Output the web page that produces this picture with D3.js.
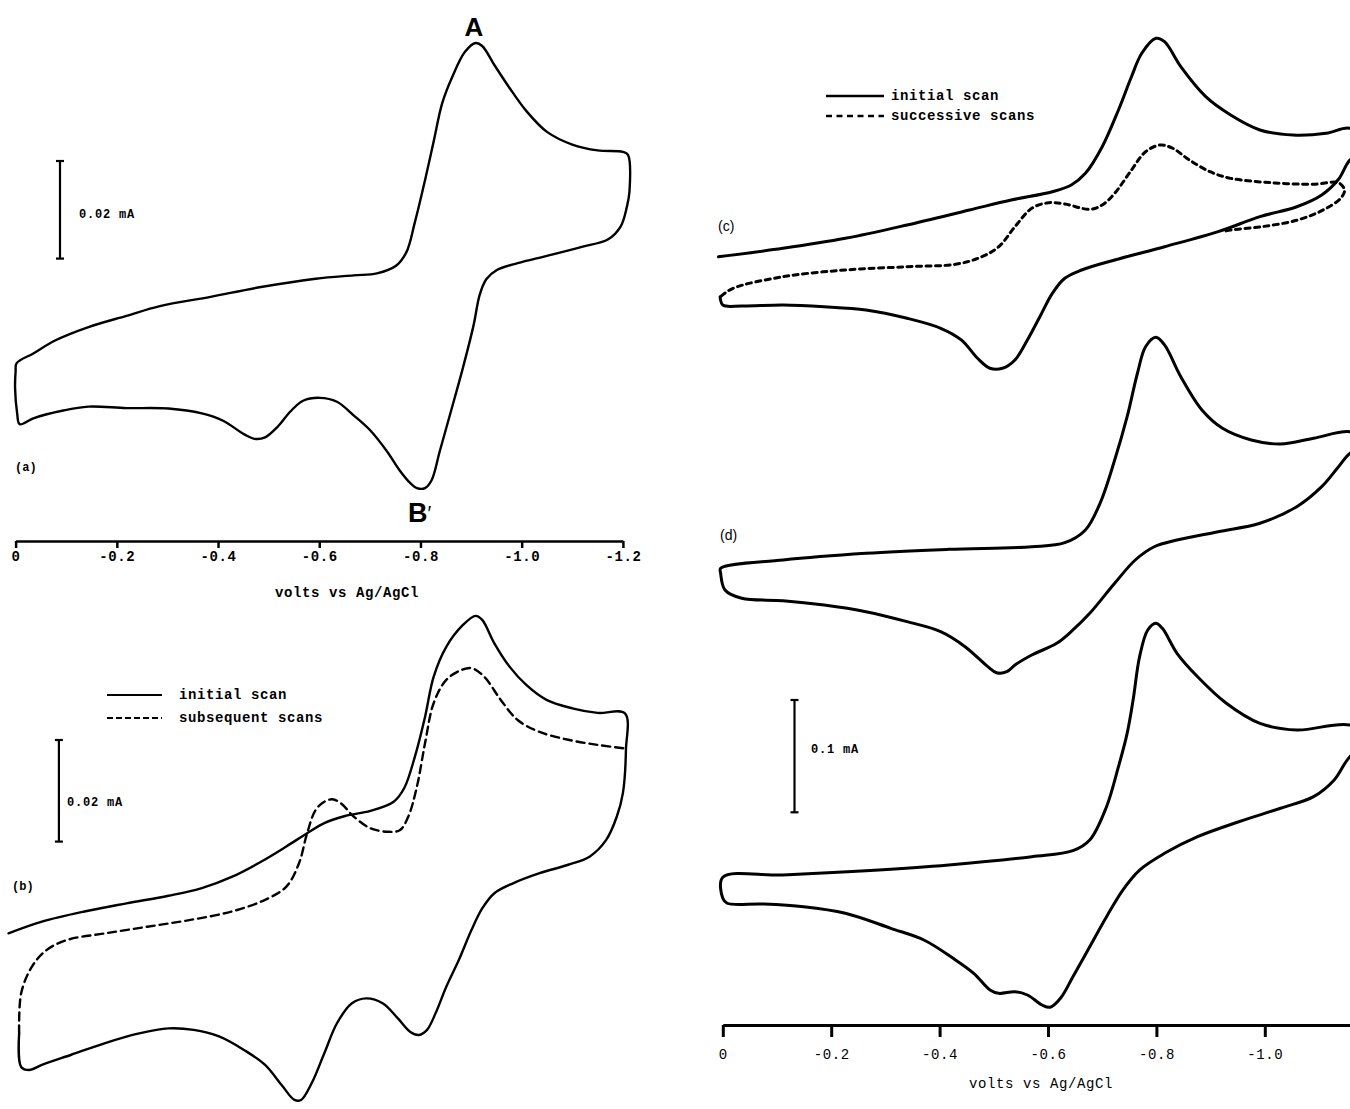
<!DOCTYPE html>
<html><head><meta charset="utf-8">
<script src="https://cdn.jsdelivr.net/npm/d3@7"></script>
<style>body{margin:0;background:#fff}svg{display:block}</style>
</head><body>
<svg id="chart" width="1350" height="1109"></svg>
<script>
// ---- DATA (volts vs Ag/AgCl, current in µA) ----
const leftTicks = [0, -0.2, -0.4, -0.6, -0.8, -1.0, -1.2];
const rightTicks = [0, -0.2, -0.4, -0.6, -0.8, -1.0];
const axisTitle = "volts vs Ag/AgCl";
const scaleLeft = {value: 20, label: "0.02 mA"};
const scaleRight = {value: 100, label: "0.1 mA"};
const legendB = ["initial scan", "subsequent scans"];
const legendC = ["initial scan", "successive scans"];

// panel (a)
const aV = [-0.002,-0.035,-0.077,-0.144,-0.219,-0.285,-0.385,-0.485,-0.593,-0.668,-0.714,-0.751,-0.772,-0.789,-0.809,-0.826,-0.843,-0.863,-0.888,-0.909,-0.922,-0.946,-0.976,-1.009,-1.050,-1.100,-1.150,-1.200,-1.210,-1.213,-1.208,-1.196,-1.171,-1.117,-1.050,-0.992,-0.951,-0.930,-0.917,-0.905,-0.884,-0.859,-0.838,-0.822,-0.809,-0.793,-0.780,-0.759,-0.734,-0.701,-0.668,-0.635,-0.601,-0.568,-0.543,-0.518,-0.493,-0.472,-0.452,-0.410,-0.368,-0.302,-0.219,-0.144,-0.094,-0.035,-0.008,-0.003,0.001,0.000];
const aI = [-6.8,-4.8,-2.2,0.6,2.9,4.9,6.8,8.8,10.5,11.2,11.6,13.1,15.9,22.1,30.7,38.6,46.5,51.9,57.0,58.8,58.2,54.3,49.6,44.9,40.6,38.0,36.8,36.5,35.9,28.4,25.3,21.3,18.6,17.0,15.2,13.7,12.3,10.4,7.2,1.0,-7.7,-17.1,-24.9,-30.8,-32.4,-32.4,-31.4,-28.8,-24.9,-20.6,-17.5,-14.7,-13.9,-14.5,-16.7,-19.8,-22.0,-22.3,-21.4,-18.6,-17.1,-16.1,-16.0,-15.7,-16.5,-18.1,-19.3,-17.0,-12.0,-8.5];

// panel (b) initial scan
const bV = [0.014,-0.052,-0.136,-0.219,-0.302,-0.368,-0.427,-0.485,-0.535,-0.576,-0.610,-0.651,-0.701,-0.747,-0.768,-0.789,-0.809,-0.826,-0.851,-0.884,-0.909,-0.922,-0.946,-0.976,-1.009,-1.050,-1.100,-1.150,-1.204,-1.206,-1.200,-1.188,-1.167,-1.134,-1.092,-1.034,-0.984,-0.946,-0.922,-0.901,-0.876,-0.851,-0.830,-0.813,-0.797,-0.780,-0.755,-0.726,-0.693,-0.664,-0.635,-0.610,-0.585,-0.564,-0.551,-0.526,-0.493,-0.452,-0.402,-0.352,-0.302,-0.244,-0.177,-0.110,-0.052,-0.027,-0.011,-0.007];
const bI = [-10.5,-8.2,-6.2,-4.6,-3.1,-1.6,0.6,3.6,6.6,9.2,11.2,12.6,13.6,15.4,18.1,24.3,32.1,40.0,45.9,50.2,52.0,51.2,46.6,42.0,38.4,35.4,33.8,32.9,32.8,25.6,17.1,12.5,7.9,4.6,3.0,1.3,-0.6,-2.6,-5.6,-9.8,-15.7,-21.0,-26.2,-29.5,-30.5,-29.9,-27.2,-24.3,-23.3,-24.3,-28.2,-34.1,-40.0,-43.3,-43.3,-40.4,-36.4,-33.5,-30.8,-29.5,-29.2,-30.2,-32.1,-34.4,-36.4,-37.4,-36.8,-30.2];
// panel (b) subsequent scans
const bDashV = [-0.007,-0.011,-0.032,-0.061,-0.102,-0.177,-0.260,-0.343,-0.427,-0.493,-0.535,-0.560,-0.576,-0.593,-0.610,-0.626,-0.643,-0.668,-0.701,-0.734,-0.759,-0.776,-0.793,-0.809,-0.826,-0.851,-0.880,-0.901,-0.926,-0.959,-0.992,-1.034,-1.092,-1.150,-1.204];
const bDashI = [-30.2,-22.3,-17.1,-13.8,-11.8,-10.5,-9.2,-7.9,-6.2,-3.9,-1.3,3.3,9.2,13.8,15.4,15.9,15.1,12.5,10.2,9.5,9.8,12.5,18.4,26.9,34.8,39.4,41.3,41.7,40.0,35.4,31.5,29.2,27.6,26.6,25.9];

// panel (c) initial scan
const cV = [0.008,-0.111,-0.226,-0.340,-0.455,-0.532,-0.608,-0.643,-0.669,-0.700,-0.730,-0.754,-0.773,-0.799,-0.815,-0.845,-0.891,-0.937,-0.991,-1.052,-1.113,-1.157,-1.200,-1.157,-1.136,-1.105,-1.059,-0.991,-0.914,-0.815,-0.723,-0.662,-0.631,-0.608,-0.585,-0.562,-0.539,-0.516,-0.493,-0.470,-0.440,-0.402,-0.340,-0.264,-0.187,-0.111,-0.035,0.000,0.005];
const cI = [-6.0,1.5,10.4,22.3,35.6,44.5,51.9,57.9,68.3,92.0,124.7,154.3,175.2,188.5,185.5,163.2,136.5,120.2,106.9,102.4,103.9,108.4,95.0,80.1,63.0,49.0,38.5,29.7,16.3,2.9,-8.9,-17.8,-25.2,-38.6,-59.4,-80.1,-97.9,-105.3,-105.3,-96.4,-80.1,-69.7,-60.8,-53.4,-50.5,-49.0,-49.9,-49.0,-41.6];
// panel (c) successive scans
const cDashV = [0.003,-0.019,-0.111,-0.226,-0.340,-0.432,-0.478,-0.509,-0.539,-0.570,-0.601,-0.631,-0.677,-0.700,-0.723,-0.754,-0.780,-0.807,-0.830,-0.861,-0.899,-0.937,-1.013,-1.090,-1.136,-1.147,-1.140,-1.105,-1.059,-0.998,-0.937,-0.922];
const cDashI = [-41.0,-34.1,-23.8,-17.8,-14.9,-12.5,-6.0,2.9,20.7,37.1,42.1,41.0,36.2,40.1,50.5,71.2,87.5,93.5,90.6,80.1,69.7,63.8,59.9,58.5,59.9,53.4,46.0,35.0,26.5,21.0,17.8,16.3];

// panel (d)
const dV = [0.004,-0.111,-0.264,-0.417,-0.570,-0.631,-0.669,-0.696,-0.723,-0.746,-0.765,-0.780,-0.799,-0.815,-0.845,-0.884,-0.922,-0.975,-1.029,-1.090,-1.157,-1.200,-1.157,-1.136,-1.105,-1.059,-0.991,-0.914,-0.838,-0.796,-0.761,-0.723,-0.677,-0.646,-0.616,-0.570,-0.539,-0.524,-0.505,-0.489,-0.447,-0.402,-0.340,-0.264,-0.187,-0.111,-0.035,-0.004,0.004];
const dI = [-7.4,0,6.0,9.5,11.8,15.4,26.7,50.5,89.0,127.6,166.3,189.9,198.3,191.5,163.2,133.6,117.3,106.9,103.3,108.4,114.2,105.0,95.0,83.1,65.3,47.5,32.7,25.2,17.8,11.8,0,-20.7,-47.5,-62.3,-74.2,-84.6,-93.5,-99.5,-100.4,-95.0,-77.2,-63.8,-54.9,-46.0,-40.1,-36.2,-34.1,-26.7,-11.8];

// bottom-right panel
const eV = [0,-0.111,-0.264,-0.417,-0.570,-0.646,-0.677,-0.708,-0.730,-0.746,-0.757,-0.769,-0.784,-0.799,-0.811,-0.838,-0.876,-0.929,-0.991,-1.059,-1.157,-1.200,-1.157,-1.128,-1.090,-1.029,-0.952,-0.876,-0.815,-0.769,-0.738,-0.708,-0.677,-0.646,-0.623,-0.604,-0.589,-0.562,-0.539,-0.509,-0.493,-0.463,-0.425,-0.371,-0.310,-0.226,-0.149,-0.073,-0.008,0];
const eI = [20.2,22.3,26.1,31.2,38.6,43.9,53.4,83.1,118.7,148.4,178.1,216.7,240.4,246.4,241.9,219.7,198.8,175.2,157.3,151.4,155.8,142.0,127.6,106.9,92.0,81.7,69.7,56.4,41.6,26.7,8.9,-14.9,-41.6,-68.3,-87.5,-95.5,-93.5,-84.6,-81.7,-83.1,-80.1,-65.3,-51.9,-35.6,-25.2,-11.8,-6.0,-3.6,-2.9,1.5];

// ---- DRAWING ----
const svg = d3.select("#chart");
const zip = (v, i) => v.slice(0, Math.min(v.length, i.length)).map((d, k) => [d, i[k]]);
const fmt = d => d === 0 ? "0" : d.toFixed(1);
const MONO = "'Liberation Mono','DejaVu Sans Mono',monospace";

const xL = d3.scaleLinear().domain([0, -1.2]).range([15.6, 622.9]);
const xR = d3.scaleLinear().domain([0, -1.157]).range([722.8, 1349.9]);
const yA = d3.scaleLinear().domain([0, 20]).range([330, 232.4]);
const yB = d3.scaleLinear().domain([0, 20]).range([880, 778.4]);
const yC = d3.scaleLinear().domain([0, 100]).range([250, 137.7]);
const yD = d3.scaleLinear().domain([0, 100]).range([560, 447.7]);
const yE = d3.scaleLinear().domain([0, 100]).range([900, 787.7]);

function curve(x, y, data, closed, width, dash) {
  const gen = d3.line().x(d => x(d[0])).y(d => y(d[1]))
    .curve(closed ? d3.curveCatmullRomClosed.alpha(0.5) : d3.curveCatmullRom.alpha(0.5));
  svg.append("path").attr("d", gen(data)).attr("fill", "none").attr("stroke", "#000")
    .attr("stroke-width", width).attr("stroke-linejoin", "round").attr("stroke-linecap", "round")
    .attr("stroke-dasharray", dash || null);
}

curve(xL, yA, zip(aV, aI), true, 2.4);
curve(xL, yB, zip(bV, bI), false, 2.4);
curve(xL, yB, zip(bDashV, bDashI), false, 2.4, "8,5");
curve(xR, yC, zip(cV, cI), false, 3);
curve(xR, yC, zip(cDashV, cDashI), false, 3, "5,4.5");
curve(xR, yD, zip(dV, dI), true, 3);
curve(xR, yE, zip(eV, eI), true, 3);

// axes
function drawAxis(x, ticks, y0, size, pad, weight, width, fs, titleX, titleY) {
  const g = svg.append("g").attr("transform", `translate(0,${y0})`)
    .call(d3.axisBottom(x).tickValues(ticks).tickSize(size).tickSizeOuter(0).tickPadding(pad).tickFormat(fmt));
  g.select(".domain").attr("stroke-width", width);
  g.selectAll(".tick line").attr("stroke-width", width);
  g.selectAll(".tick text").attr("font-family", MONO).attr("font-size", fs)
    .attr("font-weight", weight).attr("fill", "#000").attr("letter-spacing", 0.6);
  svg.append("text").attr("x", titleX).attr("y", titleY).attr("text-anchor", "middle")
    .attr("font-family", MONO).attr("font-size", fs).attr("font-weight", weight)
    .attr("letter-spacing", 0.6).text(axisTitle);
}
drawAxis(xL, leftTicks, 541, 7, 3, "bold", 2.5, 14, 347, 597);
drawAxis(xR, rightTicks, 1025, 12, 12, "normal", 3, 14, 1041, 1088);

// scale bars
function scaleBar(x, top, y, sb, labelX, labelY, weight) {
  const len = y(0) - y(sb.value);
  const g = svg.append("g").attr("stroke", "#000").attr("stroke-width", 2.2);
  g.append("line").attr("x1", x).attr("x2", x).attr("y1", top).attr("y2", top + len);
  g.append("line").attr("x1", x - 4).attr("x2", x + 4).attr("y1", top).attr("y2", top);
  g.append("line").attr("x1", x - 4).attr("x2", x + 4).attr("y1", top + len).attr("y2", top + len);
  svg.append("text").attr("x", labelX).attr("y", labelY).attr("font-family", MONO)
    .attr("font-size", 12).attr("font-weight", weight).attr("letter-spacing", 0.8).text(sb.label);
}
scaleBar(60, 161, yA, scaleLeft, 79, 218, "bold");
scaleBar(58.9, 740, yB, scaleLeft, 67, 806, "bold");
scaleBar(794.5, 700, yE, scaleRight, 811, 753, "bold");

// legends
function legend(x1, x2, tx, y1, y2, labels, dash, w) {
  svg.append("line").attr("x1", x1).attr("x2", x2).attr("y1", y1).attr("y2", y1)
    .attr("stroke", "#000").attr("stroke-width", w);
  svg.append("line").attr("x1", x1).attr("x2", x2).attr("y1", y2).attr("y2", y2)
    .attr("stroke", "#000").attr("stroke-width", w).attr("stroke-dasharray", dash);
  [y1, y2].forEach((yy, k) => svg.append("text").attr("x", tx).attr("y", yy + 4)
    .attr("font-family", MONO).attr("font-size", 14).attr("font-weight", "bold")
    .attr("letter-spacing", 0.6).text(labels[k]));
}
legend(107, 162, 179, 695, 718, legendB, "6,3", 2.2);
legend(826, 884, 891, 96, 116, legendC, "6,4.5", 2.6);

// panel labels
const lab = (t, x, y, fam, fs, w) => svg.append("text").attr("x", x).attr("y", y)
  .attr("font-family", fam).attr("font-size", fs).attr("font-weight", w).text(t);
lab("(a)", 15, 471, MONO, 12, "bold");
lab("(b)", 12, 890, MONO, 12, "bold");
lab("(c)", 718, 231, "'Liberation Sans',Arial,sans-serif", 14, "normal");
lab("(d)", 720, 540, "'Liberation Sans',Arial,sans-serif", 14, "normal");
svg.append("text").attr("x", 474).attr("y", 36).attr("text-anchor", "middle")
  .attr("font-family", "'Liberation Sans Narrow','Liberation Sans',sans-serif")
  .attr("font-size", 26).attr("font-weight", "bold").text("A");
const bt = svg.append("text").attr("x", 408).attr("y", 522)
  .attr("font-family", "'Liberation Sans Narrow','Liberation Sans',sans-serif")
  .attr("font-size", 27).attr("font-weight", "bold").text("B");
bt.append("tspan").attr("font-size", 20).attr("font-weight", "normal").attr("dy", -2).text("′");
</script>
</body></html>
